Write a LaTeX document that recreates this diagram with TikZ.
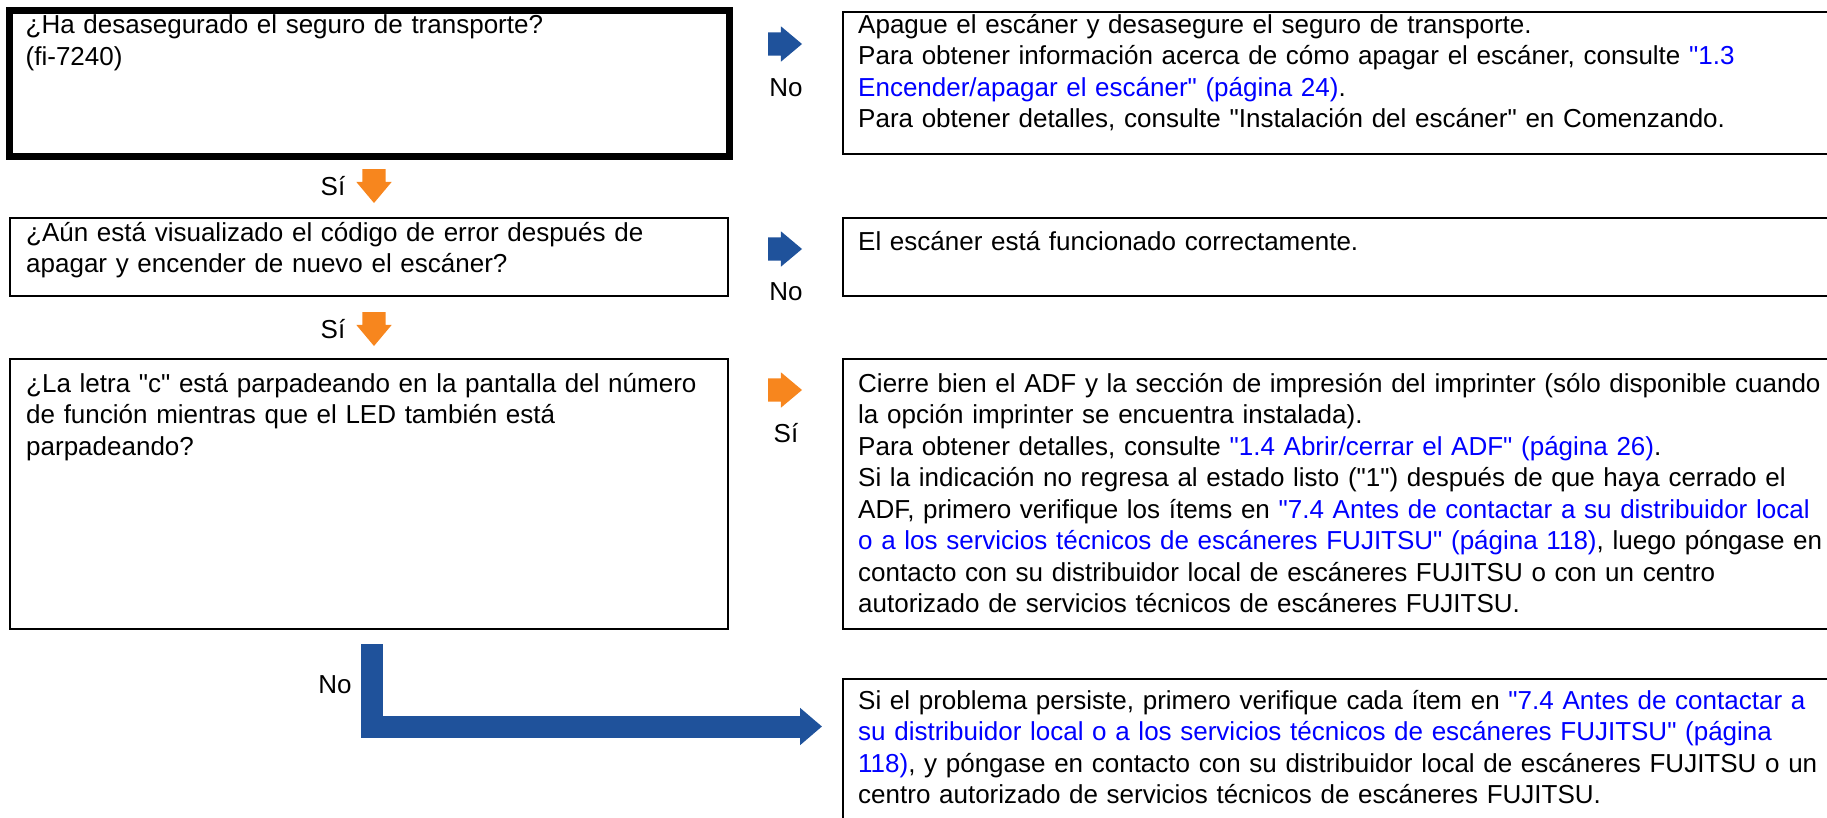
\documentclass[tikz,border=0pt]{standalone}
\usepackage{fontspec}
\setmainfont{Liberation Sans}[Ligatures=TeXOff]
\usetikzlibrary{arrows.meta,shapes.arrows,positioning}
\definecolor{arrowBlue}{RGB}{31,82,155}
\definecolor{arrowOrange}{RGB}{247,134,30}
\definecolor{linkBlue}{RGB}{0,0,255}
\newcommand{\lnk}[1]{\textcolor{linkBlue}{#1}}
\tikzset{
myBox/.style={
	draw, rectangle, line width=2.5pt,
	anchor=north west, inner sep=0pt, outer sep=0pt
}
, myQBox/.style={myBox, line width=7pt}
, myText/.style={
	anchor=north west, inner sep=0pt, align=left, text width=#1,
	font=\fontsize{26}{31.5}\selectfont, execute at begin node=\strut
}
, myLabel/.style={font=\fontsize{26}{31.5}\selectfont, inner sep=0pt}
% arrows
, myRight/.style={
	single arrow, fill=#1, inner xsep=0pt, inner ysep=11.5pt,
	single arrow head extend=6pt, single arrow tip angle=80,
	minimum height=34pt, anchor=tail, outer sep=0pt
}
, myDown/.style={myRight=#1, rotate=-90}
, myBig/.style={draw=arrowBlue, line width=22pt, -{Triangle[length=22pt,width=36pt]}}
}
\begin{document}
\begin{tikzpicture}[x=1pt,y=-1pt]
	\useasboundingbox (0,0) rectangle (1827,817);
	\clip (0,0) rectangle (1827,817);
	% question boxes
	\node[myQBox, minimum width=720pt, minimum height=146pt] (Q1) at (9.5,10.5) {};
	\node[myBox, minimum width=718pt, minimum height=78pt] (Q2) at (10,218) {};
	\node[myBox, minimum width=718pt, minimum height=270pt] (Q3) at (10,359) {};
	% answer boxes
	\node[myBox, minimum width=990pt, minimum height=142pt] (A1) at (843,12) {};
	\node[myBox, minimum width=990pt, minimum height=78pt] (A2) at (843,218) {};
	\node[myBox, minimum width=990pt, minimum height=270pt] (A3) at (843,359) {};
	\node[myBox, minimum width=990pt, minimum height=200pt] (A4) at (843,679) {};
	% texts
	\node[myText=720pt] (Q1t) at ([xshift=16pt,yshift=-1pt]Q1.north west)
		{¿Ha desasegurado el seguro de transporte?\\(fi-7240)};
	\node[myText=720pt] (Q2t) at ([xshift=16pt,yshift=-1pt]Q2.north west)
		{¿Aún está visualizado el código de error después de\\apagar y encender de nuevo el escáner?};
	\node[myText=720pt] (Q3t) at ([xshift=16pt,yshift=-11pt]Q3.north west)
		{¿La letra "c" está parpadeando en la pantalla del número\\de función mientras que el LED también está\\parpadeando?};
	\node[myText=1000pt] (A1t) at ([xshift=15pt,yshift=1pt]A1.north west)
		{Apague el escáner y desasegure el seguro de transporte.\\
		Para obtener información acerca de cómo apagar el escáner, consulte \lnk{"1.3}\\
		\lnk{Encender/apagar el escáner" (página 24)}.\\
		Para obtener detalles, consulte "Instalación del escáner" en Comenzando.};
	\node[myText=1000pt] (A2t) at ([xshift=15pt,yshift=-10pt]A2.north west)
		{El escáner está funcionado correctamente.};
	\node[myText=1000pt] (A3t) at ([xshift=15pt,yshift=-11pt]A3.north west)
		{Cierre bien el ADF y la sección de impresión del imprinter (sólo disponible cuando\\
		la opción imprinter se encuentra instalada).\\
		Para obtener detalles, consulte \lnk{"1.4 Abrir/cerrar el ADF" (página 26)}.\\
		Si la indicación no regresa al estado listo ("1") después de que haya cerrado el\\
		ADF, primero verifique los ítems en \lnk{"7.4 Antes de contactar a su distribuidor local}\\
		\lnk{o a los servicios técnicos de escáneres FUJITSU" (página 118)}, luego póngase en\\
		contacto con su distribuidor local de escáneres FUJITSU o con un centro\\
		autorizado de servicios técnicos de escáneres FUJITSU.};
	\node[myText=1000pt] (A4t) at ([xshift=15pt,yshift=-8pt]A4.north west)
		{Si el problema persiste, primero verifique cada ítem en \lnk{"7.4 Antes de contactar a}\\
		\lnk{su distribuidor local o a los servicios técnicos de escáneres FUJITSU" (página}\\
		\lnk{118)}, y póngase en contacto con su distribuidor local de escáneres FUJITSU o un\\
		centro autorizado de servicios técnicos de escáneres FUJITSU.};
	% arrows
	\node[myRight=arrowBlue] (R1) at (768,44) {};
	\node[myRight=arrowBlue] (R2) at (768,249) {};
	\node[myRight=arrowOrange] (R3) at (768,390) {};
	\node[myDown=arrowOrange] (D1) at (374,169) {};
	\node[myDown=arrowOrange] (D2) at (374,312) {};
	\coordinate (bigStart) at (372,644);
	\coordinate (bigEnd) at (822,726.5);
	\draw[myBig] (bigStart) |- (bigEnd);
	% labels
	\node[myLabel] (R1l) at (786,88) {No};
	\node[myLabel] (R2l) at (786,292) {No};
	\node[myLabel] (R3l) at (786,433) {Sí};
	\node[myLabel] (D1l) at (333,186) {Sí};
	\node[myLabel] (D2l) at (333,329) {Sí};
	\node[myLabel] (bigl) at (335,685) {No};
\end{tikzpicture}
\end{document}
